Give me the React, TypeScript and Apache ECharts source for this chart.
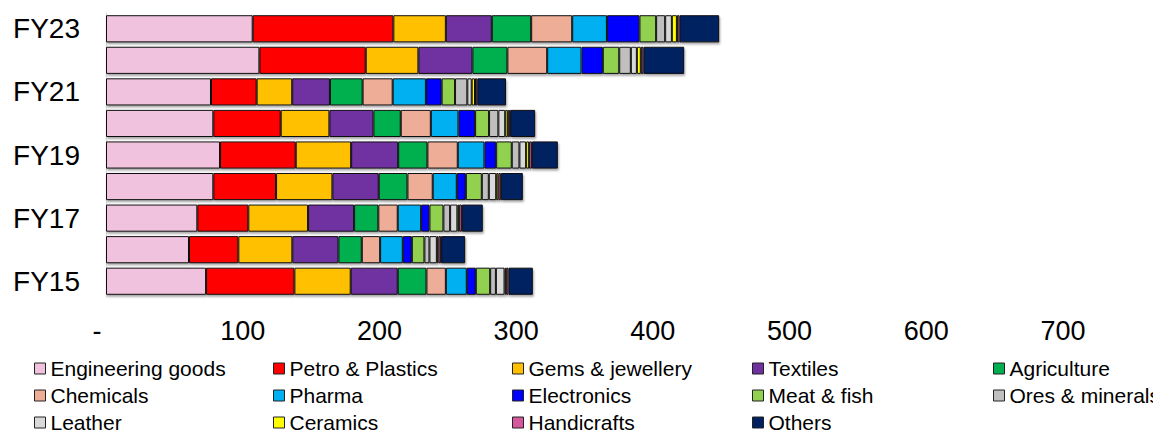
import React, { useEffect, useRef } from "react";
import * as echarts from "echarts";

// Export composition by sector, USD bn (FY15 .. FY23)
const years = ["FY15", "FY16", "FY17", "FY18", "FY19", "FY20", "FY21", "FY22", "FY23"];

const engineeringGoods = [73.2, 60.7, 66.8, 78.5, 83.4, 78.5, 76.8, 112.2, 107.3];
const petroPlastics = [64.6, 36.1, 37.3, 45.9, 55.4, 49.3, 33.4, 77.8, 102.9];
const gemsJewellery = [41.2, 39.5, 43.7, 41.2, 40.5, 35.6, 26.0, 38.5, 38.4];
const textiles = [34.4, 33.7, 33.7, 33.9, 34.4, 32.2, 27.6, 39.5, 33.6];
const agriculture = [21.0, 17.1, 17.7, 21.0, 21.4, 20.0, 23.9, 25.6, 28.8];
const chemicals = [14.2, 13.4, 14.2, 18.5, 22.2, 22.0, 22.0, 29.1, 30.0];
const pharma = [15.3, 16.6, 17.1, 17.6, 19.5, 20.2, 24.3, 25.1, 25.4];
const electronics = [6.6, 6.6, 6.1, 6.6, 8.6, 12.2, 11.5, 15.6, 23.8];
const meatFish = [10.5, 9.2, 10.2, 11.7, 11.4, 10.2, 9.8, 12.0, 12.2];
const oresMinerals = [4.2, 3.7, 4.9, 5.1, 5.6, 6.8, 9.0, 8.5, 6.6];
const leather = [6.3, 5.4, 5.3, 5.4, 4.9, 5.0, 3.2, 4.4, 4.9];
const ceramics = [1.2, 1.2, 1.3, 1.6, 2.2, 1.9, 2.4, 2.9, 3.7];
const handicrafts = [1.7, 1.9, 2.0, 1.8, 2.0, 1.7, 1.7, 1.9, 1.9];
const others = [17.8, 17.6, 15.3, 16.1, 19.0, 18.3, 21.0, 29.8, 29.0];

const sectorNames = [
  "Engineering goods", "Petro & Plastics", "Gems & jewellery", "Textiles", "Agriculture",
  "Chemicals", "Pharma", "Electronics", "Meat & fish", "Ores & minerals",
  "Leather", "Ceramics", "Handicrafts", "Others",
];
const sectorValues = [
  engineeringGoods, petroPlastics, gemsJewellery, textiles, agriculture,
  chemicals, pharma, electronics, meatFish, oresMinerals,
  leather, ceramics, handicrafts, others,
];
const sectorColors = [
  "#F1C2DE", "#FF0000", "#FFC000", "#7030A0", "#00B050",
  "#EEAD96", "#00B0F0", "#0000FF", "#92D050", "#BFBFBF",
  "#D9D9D9", "#FFFF00", "#D5589C", "#002060",
];

const xTicks = [0, 100, 200, 300, 400, 500, 600, 700];

const FONT = "'Liberation Sans', Arial, sans-serif";

// Legend laid out as five columns, row-major order of the sector list
const legendColumnsLeft = [34, 273, 512, 752, 993];

export default function App() {
  const ref = useRef<HTMLDivElement>(null);

  useEffect(() => {
    if (!ref.current) return;
    const chart = echarts.init(ref.current, undefined, { renderer: "svg" });

    const legends = legendColumnsLeft.map((left, col) => ({
      orient: "vertical" as const,
      left,
      top: 355,
      padding: 0,
      itemGap: 0,
      itemWidth: 11,
      itemHeight: 11,
      icon: "rect",
      selectedMode: false,
      itemStyle: { borderColor: "#222", borderWidth: 1 },
      textStyle: { fontFamily: FONT, fontSize: 21, color: "#000", lineHeight: 27 },
      data: sectorNames.filter((_, i) => i % 5 === col),
    }));

    chart.setOption({
      animation: false,
      backgroundColor: "#fff",
      grid: { left: 106, right: 90, top: 13, bottom: 143, containLabel: false },
      legend: legends,
      xAxis: {
        type: "value",
        min: xTicks[0],
        max: xTicks[xTicks.length - 1],
        interval: 100,
        splitLine: { show: false },
        axisLine: { show: false },
        axisTick: { show: false },
        axisLabel: {
          margin: 20,
          fontFamily: FONT,
          fontSize: 27,
          color: "#000",
          formatter: (v: number) => (v === 0 ? "{z|-}" : String(v)),
          rich: { z: { fontFamily: FONT, fontSize: 27, color: "#000", padding: [0, 18, 0, 0] } },
        },
      },
      yAxis: {
        type: "category",
        data: years,
        axisLine: { show: true, lineStyle: { color: "#D9D9D9", width: 1 } },
        axisTick: { show: false },
        axisLabel: {
          interval: 1,
          margin: 26,
          fontFamily: FONT,
          fontSize: 28,
          color: "#000",
        },
      },
      series: sectorNames.map((name, i) => ({
        name,
        type: "bar",
        stack: "total",
        barCategoryGap: "14%",
        data: sectorValues[i],
        itemStyle: {
          color: sectorColors[i],
          borderColor: "#111",
          borderWidth: 1,
          shadowColor: "rgba(0,0,0,0.35)",
          shadowBlur: 2,
          shadowOffsetX: 1,
          shadowOffsetY: 2,
        },
      })),
    });

    return () => chart.dispose();
  }, []);

  return (
    <div
      ref={ref}
      style={{ position: "fixed", left: 0, top: 0, width: 1153, height: 440, background: "#fff" }}
    />
  );
}
